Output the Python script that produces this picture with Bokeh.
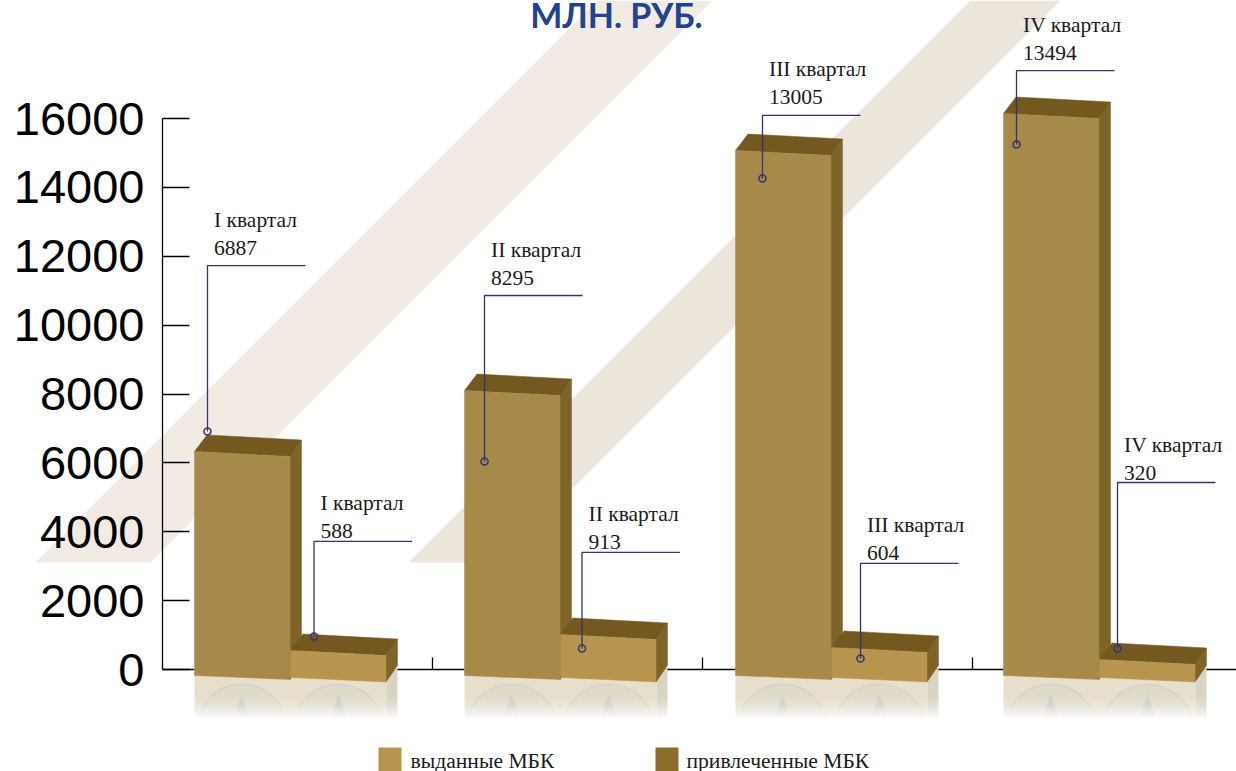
from bokeh.core.properties import value
from bokeh.embed import file_html
from bokeh.models import FixedTicker, LinearAxis, Range1d
from bokeh.plotting import figure
from bokeh.resources import INLINE

title = "МЛН. РУБ."
quarters = ["I квартал", "II квартал", "III квартал", "IV квартал"]
issued_labels = [6887, 8295, 13005, 13494]
raised_labels = [588, 913, 604, 320]
issued_heights = [6330, 8100, 15070, 16145]
raised_heights = [550, 1015, 640, 290]
issued_elbows = [11730, 10860, 16090, 17390]
raised_elbows = [3720, 3400, 3080, 5430]
issued_dots = [6910, 6040, 14260, 15245]
raised_dots = [960, 610, 320, 610]
y_ticks = [0, 2000, 4000, 6000, 8000, 10000, 12000, 14000, 16000]
y_tick_labels = [str(t) for t in y_ticks]
legend_names = ["выданные МБК", "привлеченные МБК"]
legend_colors = ["#b8954f", "#8d6d2c"]

W, H = 1236, 771
AX_X, ZERO_Y, TOP_Y, GROUP_W = 162, 669, 118, 270
UNIT = (ZERO_Y - TOP_Y) / 16000


def gx(g, dx=0.0):
    return g + dx / GROUP_W


def vy(v, dy=0.0):
    return v - dy / UNIT


def px(x):
    return (x - AX_X) / GROUP_W


def py(y):
    return (ZERO_Y - y) / UNIT


p = figure(width=W, height=H, output_backend="svg", toolbar_location=None,
           x_axis_location=None, y_axis_location=None,
           x_range=Range1d(px(0), px(W)), y_range=Range1d(py(H), py(0)),
           min_border=0, outline_line_color=None)
p.grid.visible = False

# Background diagonal bands
for (a, b, col) in [(597, 712, "#f1ebe4"), (970, 1060, "#ebe5dc")]:
    top, bot = 0, 562
    p.patch([px(a - top), px(b - top), px(b - bot), px(a - bot)],
            [py(top), py(top), py(bot), py(bot)],
            fill_color=col, line_color=None, level="underlay")

# Axes
yaxis = LinearAxis(fixed_location=px(AX_X), ticker=FixedTicker(ticks=y_ticks), bounds=(0, 16000),
                   major_label_overrides=dict(zip(y_ticks, y_tick_labels)),
                   major_tick_in=27, major_tick_out=0, minor_tick_line_color=None,
                   major_label_standoff=18, major_label_text_font="Liberation Sans",
                   major_label_text_font_size="47px", major_label_text_color="#000000",
                   axis_line_color="#000000", axis_line_width=1.3,
                   major_tick_line_color="#000000", major_tick_line_width=1.3)
p.add_layout(yaxis, "left")
xaxis = LinearAxis(fixed_location=0, ticker=FixedTicker(ticks=[1, 2, 3]), bounds=(0, 4),
                   major_label_overrides={1: "", 2: "", 3: ""},
                   major_tick_in=12, major_tick_out=0,
                   minor_tick_line_color=None, axis_line_color="#000000", axis_line_width=1.3,
                   major_tick_line_color="#000000", major_tick_line_width=1.3)
p.add_layout(xaxis, "below")

NUDGE = [0, 0, 1, -1]
BAR_W, DEPTH_X, DEPTH_Y, SLOPE = 95.5, 11.5, 16.5, 5
LV = "annotation"


def reflection(left, right, side_right, centers):
    p.quad(left=[px(left)], right=[px(right)], top=[py(668)], bottom=[py(740)],
           fill_color="#e7dfcb", line_color=None, level=LV)
    p.quad(left=[px(right)], right=[px(side_right)], top=[py(668)], bottom=[py(740)],
           fill_color="#d9d3c1", line_color=None, level=LV)
    for c in centers:
        p.scatter([px(c)], [py(730)], size=92, marker="circle", fill_color="#e0dac9",
                  line_color="#dad4c5", line_width=2, level=LV)
        p.patch([px(c), px(c + 10), px(c - 10)], [py(694), py(722), py(722)],
                fill_color="#cfccc5", line_color=None, level=LV)
    n = 12
    for i in range(n):
        y0 = 696 + i * 2
        alpha = 1 / (n - i) if i > 3 else 0.06
        p.quad(left=[px(left - 1)], right=[px(side_right + 1)], top=[py(y0)], bottom=[py(H + 10)],
               fill_color="#ffffff", fill_alpha=alpha, line_color=None, level=LV)


def box(g, left, height, bot_l, bot_r, front):
    l, r = left, left + BAR_W
    top = height
    topr = vy(height, SLOPE)
    back_l, back_r = vy(height, -DEPTH_Y), vy(height, -DEPTH_Y + SLOPE)
    p.patch([gx(g, r), gx(g, r + DEPTH_X), gx(g, r + DEPTH_X), gx(g, r)],
            [topr, back_r, vy(0, bot_r - DEPTH_Y), vy(0, bot_r)],
            fill_color="#7f6427", line_color="#7f6427", line_width=0.5, level=LV)
    p.patch([gx(g, l), gx(g, l + DEPTH_X + 1), gx(g, r + DEPTH_X), gx(g, r)],
            [top, back_l, back_r, topr],
            fill_color="#735920", line_color="#735920", line_width=0.5, level=LV)
    p.patch([gx(g, l), gx(g, r), gx(g, r), gx(g, l)],
            [top, topr, vy(0, bot_r), vy(0, bot_l)],
            fill_color=front, line_color=front, line_width=0.5, level=LV)


for g, (a, b) in enumerate(zip(issued_heights, raised_heights)):
    L = 32 + NUDGE[g]
    x0 = AX_X + GROUP_W * g + L
    reflection(x0, x0 + 192, x0 + 203, [x0 + 47, x0 + 144])
    box(g, L, a, 6, 10, "#a78a4a")
    box(g, L + 96, b, 8, 12.5, "#b8954f")

# Callouts
LINE = "#34346f"
iss_x = [px(207), px(484), px(762), px(1016)]
rai_x = [px(313.5), px(581.5), px(860), px(1117)]
SPAN = 98 / GROUP_W
series = [(iss_x, issued_elbows, issued_dots, issued_labels, -46, -18),
          (rai_x, raised_elbows, raised_dots, raised_labels, -38, -10)]
for xs, elbows, dots, labels, dy1, dy2 in series:
    p.multi_line([[x, x, x + SPAN] for x in xs], [[d, e, e] for d, e in zip(dots, elbows)],
                 line_color=LINE, line_width=1.3, level="overlay")
    p.scatter(xs, dots, size=7, marker="circle", fill_color=None, line_color=LINE,
              line_width=1.5, level="overlay")
    tx = [x + 6.5 / GROUP_W for x in xs]
    p.text(tx, elbows, text=quarters, y_offset=dy1, text_baseline="middle", text_align="left",
           text_font=value("Liberation Serif"), text_font_size="21.5px", text_color="#1a1a1a",
           level="overlay")
    p.text(tx, elbows, text=[str(v) for v in labels], y_offset=dy2, text_baseline="middle",
           text_align="left", text_font=value("Liberation Serif"), text_font_size="21.5px",
           text_color="#1a1a1a", level="overlay")

# Title
p.text([px(616)], [py(14)], text=[title], text_align="center", text_baseline="middle",
       text_font=value("Lato"), text_font_style="bold", text_font_size="34px",
       text_color="#22418f", level="overlay")

# Legend
for name, col, x0, tx0 in zip(legend_names, legend_colors, [378, 655], [410, 686]):
    p.quad(left=[px(x0)], right=[px(x0 + 23)], top=[py(747)], bottom=[py(H + 2)],
           fill_color=col, line_color=None, level="overlay")
    p.text([px(tx0)], [py(760)], text=[name], text_baseline="middle", text_align="left",
           text_font=value("Liberation Serif"), text_font_size="21.6px", text_color="#1a1a1a",
           level="overlay")

open("out.html", "w").write(file_html(p, INLINE))
